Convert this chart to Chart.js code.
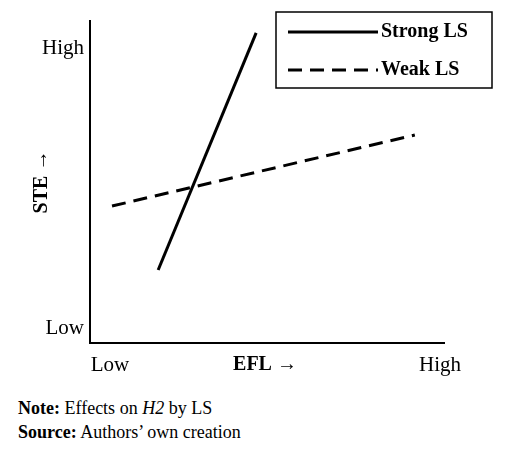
<!DOCTYPE html>
<html>
<head>
<script src="https://cdn.jsdelivr.net/npm/chart.js@4"></script>
<style>
body { margin: 0; background: #fff; font-family: "Liberation Serif", serif; }
#wrap { width: 516px; height: 390px; position: relative; }
.note { font-size: 18px; margin-left: 18px; line-height: 24px; }
</style>
</head>
<body>
<div id="wrap"><canvas id="c"></canvas></div>
<div class="note" style="margin-top:6px"><b>Note:</b> Effects on <i>H2</i> by LS</div>
<div class="note"><b>Source:</b> Authors’ own creation</div>
<script>
const seriesNames = ["Strong LS", "Weak LS"];
const strongLS = [{x: 19.2, y: 22.6}, {x: 46.8, y: 96}];
const weakLS = [{x: 6.2, y: 42.4}, {x: 91.5, y: 64.4}];
const xTicks = [{v: 5.6, t: "Low"}, {v: 98.6, t: "High"}];
const yTicks = [{v: 4.6, t: "Low"}, {v: 91.3, t: "High"}];
const xTitle = "EFL →";
const yTitle = "STE →";

const decor = {
    id: "decor",
    afterDraw(chart) {
        const ctx = chart.ctx;
        const a = chart.chartArea;
        const xs = chart.scales.x, ys = chart.scales.y;
        ctx.save();
        ctx.strokeStyle = "#000";
        ctx.lineWidth = 2;
        ctx.beginPath();
        ctx.moveTo(a.left, a.top);
        ctx.lineTo(a.left, a.bottom);
        ctx.lineTo(a.right, a.bottom);
        ctx.stroke();
        ctx.fillStyle = "#000";
        ctx.font = "21px 'Liberation Serif'";
        ctx.textBaseline = "middle";
        ctx.textAlign = "right";
        yTicks.forEach(t => ctx.fillText(t.t, a.left - 6, ys.getPixelForValue(t.v)));
        ctx.textAlign = "center";
        xTicks.forEach(t => ctx.fillText(t.t, xs.getPixelForValue(t.v), a.bottom + 22));
        ctx.font = "bold 20px 'Liberation Serif'";
        ctx.fillText(xTitle, 265, a.bottom + 22);
        ctx.save();
        ctx.translate(42, 182);
        ctx.rotate(-Math.PI / 2);
        ctx.fillText(yTitle, 0, 0);
        ctx.restore();
        // legend box
        ctx.lineWidth = 1.5;
        ctx.strokeRect(276, 12, 216, 76);
        ctx.textAlign = "left";
        ctx.font = "bold 20px 'Liberation Serif'";
        const rows = [32, 70];
        chart.data.datasets.forEach((d, i) => {
            ctx.lineWidth = 3;
            ctx.setLineDash(d.borderDash || []);
            ctx.beginPath();
            ctx.moveTo(288, rows[i]);
            ctx.lineTo(378, rows[i]);
            ctx.stroke();
            ctx.setLineDash([]);
            ctx.fillText(d.label, 381, rows[i]);
        });
        ctx.restore();
    }
};

new Chart(document.getElementById("c"), {
    type: "line",
    data: {
        datasets: [
            { label: seriesNames[0], data: strongLS, borderColor: "#000", borderWidth: 3, pointRadius: 0 },
            { label: seriesNames[1], data: weakLS, borderColor: "#000", borderWidth: 3, borderDash: [14, 8], pointRadius: 0 }
        ]
    },
    options: {
        responsive: true,
        maintainAspectRatio: false,
        animation: false,
        layout: { padding: { left: 90, right: 71, top: 20, bottom: 47 } },
        plugins: { legend: { display: false }, tooltip: { enabled: false } },
        scales: {
            x: { type: "linear", min: 0, max: 100, display: false },
            y: { min: 0, max: 100, display: false }
        }
    },
    plugins: [decor]
});
</script>
</body>
</html>
